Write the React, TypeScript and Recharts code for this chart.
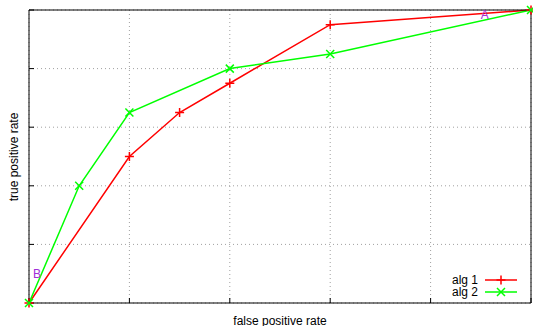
import {
  LineChart,
  Line,
  XAxis,
  YAxis,
  CartesianGrid,
  ReferenceDot,
  Legend,
} from "recharts";

const xTicks = [0, 0.2, 0.4, 0.6, 0.8, 1];
const yTicks = [0, 0.2, 0.4, 0.6, 0.8, 1];

const alg1Fpr = [0, 0.2, 0.3, 0.4, 0.6, 1];
const alg1Tpr = [0, 0.5, 0.65, 0.75, 0.95, 1];
const alg2Fpr = [0, 0.1, 0.2, 0.4, 0.6, 1];
const alg2Tpr = [0, 0.4, 0.65, 0.8, 0.85, 1];

const pointNames = ["A", "B"];
const pointFpr = [0.9, 0.008];
const pointTpr = [0.985, 0.1];

const alg1 = alg1Fpr.map((fpr, i) => ({ fpr, tpr: alg1Tpr[i] }));
const alg2 = alg2Fpr.map((fpr, i) => ({ fpr, tpr: alg2Tpr[i] }));

const FONT = "'Liberation Sans', Arial, sans-serif";
const RED = "#ff0000";
const GREEN = "#00ff00";
const LABEL = "#a030d8";

const noTick = () => <g />;

function PlusDot({ cx, cy, stroke }: { cx?: number; cy?: number; stroke?: string }) {
  if (cx == null || cy == null) return null;
  const s = 4.5;
  return (
    <path
      d={`M${cx - s},${cy}H${cx + s}M${cx},${cy - s}V${cy + s}`}
      stroke={stroke}
      strokeWidth={1.5}
      fill="none"
    />
  );
}

function CrossDot({ cx, cy, stroke }: { cx?: number; cy?: number; stroke?: string }) {
  if (cx == null || cy == null) return null;
  const s = 4;
  return (
    <path
      d={`M${cx - s},${cy - s}L${cx + s},${cy + s}M${cx - s},${cy + s}L${cx + s},${cy - s}`}
      stroke={stroke}
      strokeWidth={1.5}
      fill="none"
    />
  );
}

function KeyBox({ payload }: { payload?: Array<{ value: string; color: string }> }) {
  if (!payload) return null;
  return (
    <svg width={90} height={26} style={{ display: "block" }}>
      {payload.map((p, i) => {
        const y = 6 + i * 12;
        return (
          <g key={p.value}>
            <text x={48} y={y} dy="0.35em" textAnchor="end" fontSize={12} fontFamily={FONT} fill="#000">
              {p.value}
            </text>
            <line x1={55} x2={87} y1={y} y2={y} stroke={p.color} strokeWidth={1.5} />
            {i === 0 ? (
              <PlusDot cx={71} cy={y} stroke={p.color} />
            ) : (
              <CrossDot cx={71} cy={y} stroke={p.color} />
            )}
          </g>
        );
      })}
    </svg>
  );
}

function PointName({ cx, cy, name }: { cx?: number; cy?: number; name: string }) {
  if (cx == null || cy == null) return null;
  return (
    <text x={cx} y={cy} dy="0.35em" fontSize={12} fontFamily={FONT} fill={LABEL}>
      {name}
    </text>
  );
}

export default function App() {
  return (
    <div style={{ position: "absolute", left: 0, top: 0, width: 533, height: 326, background: "#fff" }}>
      <LineChart
        width={533}
        height={326}
        margin={{ top: 10, right: 2, bottom: 23, left: 29 }}
      >
        <CartesianGrid
          xAxisId="b"
          yAxisId="l"
          stroke="#a0a0a0"
          strokeDasharray="1 3"
        />
        <XAxis
          xAxisId="b"
          type="number"
          dataKey="fpr"
          domain={[0, 1]}
          ticks={xTicks}
          orientation="bottom"
          height={1}
          mirror
          tick={noTick}
          tickSize={5}
          stroke="#000"
        />
        <XAxis
          xAxisId="t"
          type="number"
          dataKey="fpr"
          domain={[0, 1]}
          ticks={xTicks}
          orientation="top"
          height={1}
          mirror
          tick={noTick}
          tickSize={5}
          stroke="#000"
        />
        <YAxis
          yAxisId="l"
          type="number"
          domain={[0, 1]}
          ticks={yTicks}
          width={1}
          mirror
          tick={noTick}
          tickSize={5}
          stroke="#000"
        />
        <YAxis
          yAxisId="r"
          type="number"
          domain={[0, 1]}
          ticks={yTicks}
          orientation="right"
          width={1}
          mirror
          tick={noTick}
          tickSize={5}
          stroke="#000"
        />
        <Line
          xAxisId="b"
          yAxisId="l"
          data={alg1}
          dataKey="tpr"
          name="alg 1"
          type="linear"
          stroke={RED}
          strokeWidth={1.5}
          dot={<PlusDot />}
          activeDot={false}
          isAnimationActive={false}
        />
        <Line
          xAxisId="b"
          yAxisId="l"
          data={alg2}
          dataKey="tpr"
          name="alg 2"
          type="linear"
          stroke={GREEN}
          strokeWidth={1.5}
          dot={<CrossDot />}
          activeDot={false}
          isAnimationActive={false}
        />
        {pointNames.map((name, i) => (
          <ReferenceDot
            key={name}
            xAxisId="b"
            yAxisId="l"
            x={pointFpr[i]}
            y={pointTpr[i]}
            r={0}
            ifOverflow="visible"
            shape={(p: { cx?: number; cy?: number }) => <PointName cx={p.cx} cy={p.cy} name={name} />}
          />
        ))}
        <Legend
          layout="vertical"
          align="center"
          verticalAlign="middle"
          content={<KeyBox />}
          wrapperStyle={{ left: 430, top: 274, width: 90 }}
        />
      </LineChart>
      <div
        style={{
          position: "absolute",
          left: 14,
          top: 157,
          transform: "translate(-50%, -50%) rotate(-90deg)",
          whiteSpace: "nowrap",
          fontFamily: FONT,
          fontSize: 12,
        }}
      >
        true positive rate
      </div>
      <div
        style={{
          position: "absolute",
          left: 280,
          top: 321,
          transform: "translate(-50%, -50%)",
          whiteSpace: "nowrap",
          fontFamily: FONT,
          fontSize: 12,
        }}
      >
        false positive rate
      </div>
    </div>
  );
}
